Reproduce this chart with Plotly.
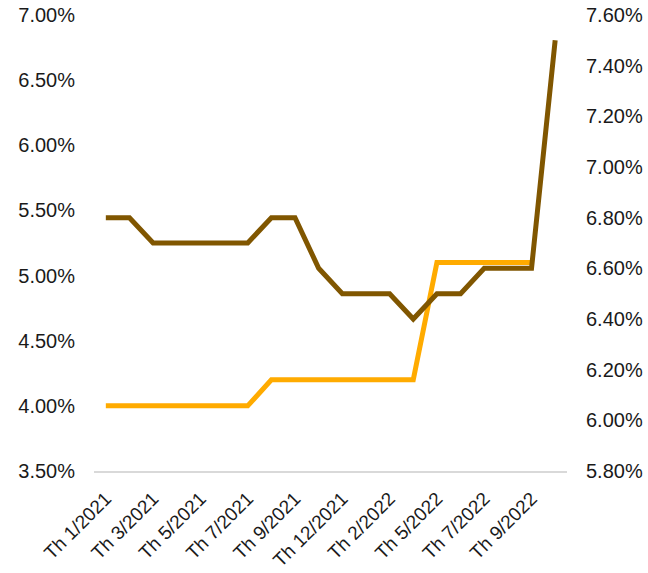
import plotly.graph_objects as go

months = [
    "Th 1/2021", "Th 2/2021", "Th 3/2021", "Th 4/2021", "Th 5/2021",
    "Th 6/2021", "Th 7/2021", "Th 8/2021", "Th 9/2021", "Th 10/2021",
    "Th 12/2021", "Th 1/2022", "Th 2/2022", "Th 4/2022", "Th 5/2022",
    "Th 6/2022", "Th 7/2022", "Th 8/2022", "Th 9/2022", "Th 10/2022",
]
# left axis series (orange), no value for the last month
orange_rate = [4.00, 4.00, 4.00, 4.00, 4.00, 4.00, 4.00, 4.20, 4.20, 4.20,
               4.20, 4.20, 4.20, 4.20, 5.10, 5.10, 5.10, 5.10, 5.10, None]
# right axis series (brown)
brown_rate = [6.80, 6.80, 6.70, 6.70, 6.70, 6.70, 6.70, 6.80, 6.80, 6.60,
              6.50, 6.50, 6.50, 6.40, 6.50, 6.50, 6.60, 6.60, 6.60, 7.50]

left_ticks = [3.5, 4.0, 4.5, 5.0, 5.5, 6.0, 6.5, 7.0]
right_ticks = [5.8, 6.0, 6.2, 6.4, 6.6, 6.8, 7.0, 7.2, 7.4, 7.6]

FONT = dict(family="Liberation Sans, Arial, sans-serif", size=20, color="#1a1a1a")
XFONT = dict(FONT, size=19)

fig = go.Figure()
fig.add_trace(go.Scatter(
    x=months, y=orange_rate, mode="lines", name="left",
    line=dict(color="#FFAB00", width=5), yaxis="y", connectgaps=False,
))
fig.add_trace(go.Scatter(
    x=months, y=brown_rate, mode="lines", name="right",
    line=dict(color="#805600", width=5), yaxis="y2",
))

fig.update_layout(
    width=648, height=573,
    margin=dict(l=94, r=81, t=15, b=102, autoexpand=False),
    paper_bgcolor="white", plot_bgcolor="white",
    showlegend=False,
    font=FONT,
    xaxis=dict(
        type="category", categoryorder="array", categoryarray=months,
        range=[-0.5, len(months) - 0.5],
        tickmode="array", tickvals=months[::2], ticktext=months[::2],
        tickangle=-45, showgrid=False, zeroline=False,
        showline=True, linecolor="#d9d9d9", linewidth=2,
        ticks="", tickfont=XFONT, ticklabelstandoff=7,
    ),
    yaxis=dict(
        range=[3.5, 7.0], tickvals=left_ticks,
        ticktext=[f"{v:.2f}%" for v in left_ticks],
        showgrid=False, zeroline=False, showline=False, ticks="",
        tickfont=FONT, ticklabelstandoff=18,
    ),
    yaxis2=dict(
        range=[5.8, 7.6], tickvals=right_ticks,
        ticktext=[f"{v:.2f}%" for v in right_ticks],
        overlaying="y", side="right",
        showgrid=False, zeroline=False, showline=False, ticks="",
        tickfont=FONT, ticklabelstandoff=18,
    ),
)

# drop the default page margin so the figure sits at the window's corner
fig.write_html(
    "out.html",
    config={"displayModeBar": False},
    post_script="document.body.style.margin = '0';",
)
